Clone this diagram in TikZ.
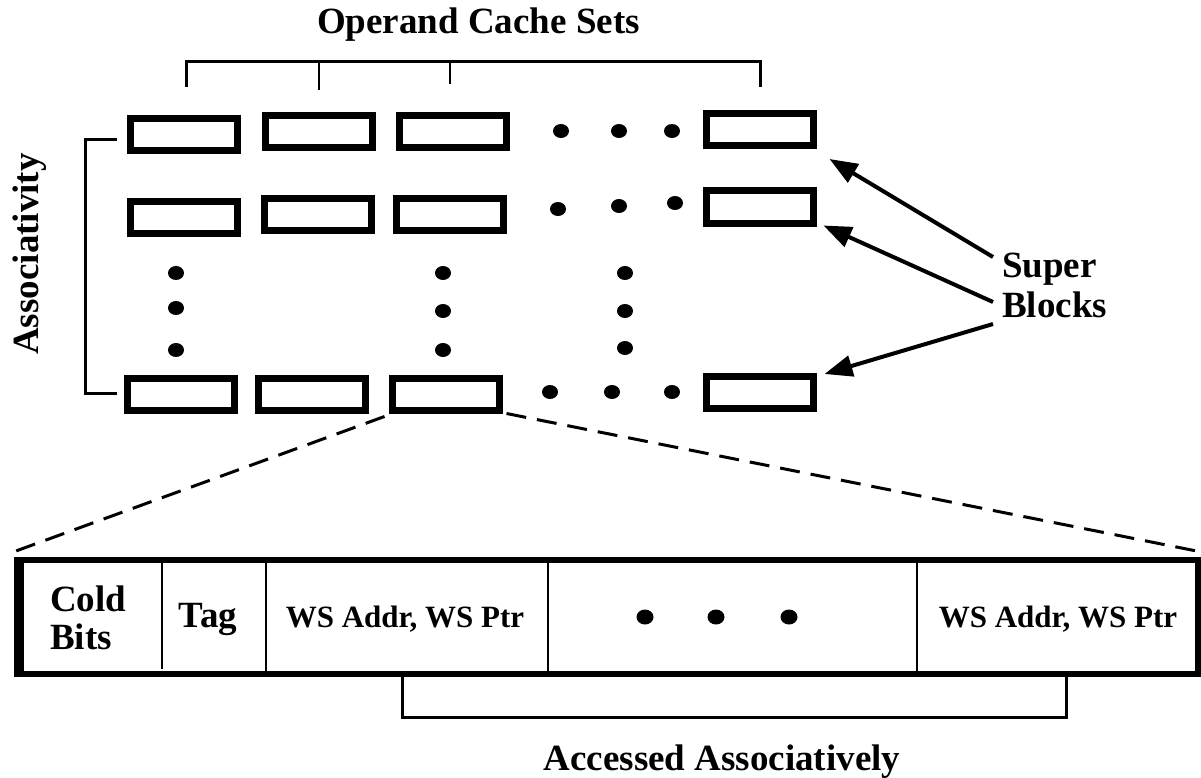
\documentclass[tikz,border=0pt]{standalone}
\usepackage{fontspec}
\setmainfont{Liberation Serif}
\usetikzlibrary{arrows.meta}
\begin{document}
\begin{tikzpicture}[x=1pt,y=-1pt,
  sblock/.style={draw, line width=7pt, minimum width=107pt, minimum height=32pt, inner sep=0pt},
  big/.style={font=\fontsize{37}{40}\selectfont\bfseries, inner sep=0pt},
  mid/.style={font=\fontsize{31}{34}\selectfont\bfseries, inner sep=0pt},
  brk/.style={line width=3pt},
  ptr/.style={line width=4pt, -{Triangle[length=28pt,width=21pt]}},
  zoomline/.style={line width=3pt, dash pattern=on 20pt off 11pt},
  divider/.style={line width=2.5pt}]
\useasboundingbox (0,0) rectangle (1201,778);

% title and bracket over the sets
\node[big, anchor=base] (sets) at (478.5,34) {Operand Cache Sets};

% super blocks grid
\node[sblock] (b11) at (183.5,134.5) {};
\node[sblock] (b12) at (319,132) {};
\node[sblock] (b13) at (452.5,132) {};
\node[sblock] (b1n) at (759.5,129.5) {};
\node[sblock] (b21) at (183.5,217.5) {};
\node[sblock] (b22) at (317.5,214.5) {};
\node[sblock] (b23) at (450,214.5) {};
\node[sblock] (b2n) at (759.5,207) {};
\node[sblock] (b41) at (181,394) {};
\node[sblock] (b42) at (311.5,394) {};
\node[sblock] (b43) at (445.5,394) {};
\node[sblock] (b4n) at (759.5,392.5) {};

\coordinate (s1) at (186,87);
\coordinate (s2) at (319,90);
\coordinate (s3) at (450,84);
\coordinate (s4) at (760,87);
\draw[brk] (s1) -- (186,62) -- (760,62) -- (s4);
\draw[divider] (s2) -- (319,62);
\draw[divider] (s3) -- (450,62);

% ellipsis dots in the grid
\foreach \x/\y in {561/131, 619/131, 672/131,
                   558/209, 619/206, 675/203,
                   550/392, 612/392, 672/392,
                   176/273, 176/308, 176/350,
                   443/273, 443/311, 443/350,
                   625/273, 625/311, 625/348}
  \fill (\x,\y) ellipse [x radius=8pt, y radius=7pt];

% associativity bracket
\node[big, rotate=90] (assoc) at (30,254) {Associativity};
\draw[brk] (117,140) -- (85,140) -- (85,393) -- (117,393);

% super block pointers
\node[big, align=left, anchor=west, font=\fontsize{37}{40}\selectfont\bfseries] (sb) at (1002,285) {Super\\Blocks};
\coordinate (p1) at ([shift={(-9,-28)}]sb.west);
\coordinate (p2) at ([shift={(-9,17)}]sb.west);
\coordinate (p3) at ([shift={(-9,39)}]sb.west);
\draw[ptr] (p1) -- ([shift={(13,10)}]b1n.south east);
\draw[ptr] (p2) -- ([shift={(7,-1)}]b2n.south east);
\draw[ptr] (p3) -- ([shift={(8,1)}]b4n.north east);

% expanded super block
\node[draw, line width=5.5pt, minimum width=1177pt, minimum height=114pt, inner sep=0pt] (bar) at (609.5,617) {};
\draw[line width=8pt, line cap=square] (bar.north west) -- (bar.south west);
\draw[divider] (162,560) -- (162,669);
\draw[divider] (266,560) -- (266,675);
\draw[divider] (548,560) -- (548,675);
\draw[divider] (917,560) -- (917,677);

\draw[zoomline] ([shift={(-4,3)}]b43.south west) -- ([shift={(-3,-6)}]bar.north west);
\draw[zoomline] ([shift={(4,0)}]b43.south east) -- ([shift={(2,-5)}]bar.north east);

\node[big, align=left, anchor=west, font=\fontsize{37}{38}\selectfont\bfseries] (cold) at (50,618) {Cold\\Bits};
\node[big, anchor=base] (tag) at (208,627) {Tag};
\node[mid, anchor=base] (ws1) at (405,627) {WS Addr, WS Ptr};
\node[mid, anchor=base] (ws2) at (1058,627) {WS Addr, WS Ptr};
\foreach \x in {645,716,789}
  \fill (\x,617) ellipse [x radius=8.5pt, y radius=7.5pt];

% associatively accessed fields
\draw[brk] (402,676) -- (402,717) -- (1066,717) -- (1066,676);
\node[big, anchor=base] (acc) at (722,770) {Accessed Associatively};
\end{tikzpicture}
\end{document}
